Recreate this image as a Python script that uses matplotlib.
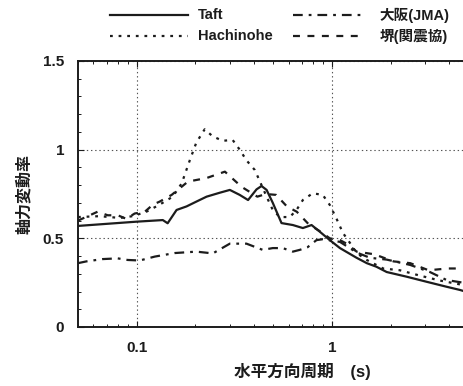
import matplotlib
matplotlib.use("Agg")
import matplotlib.pyplot as plt
from matplotlib.lines import Line2D
from matplotlib.ticker import FixedLocator, LogLocator, NullFormatter, MultipleLocator

plt.rcParams['font.family'] = ['Liberation Sans', 'Noto Sans CJK JP']
plt.rcParams['lines.scale_dashes'] = False

# Taft
taft_period = [0.05, 0.10, 0.136, 0.144, 0.160, 0.180, 0.202, 0.228, 0.266, 0.300,
               0.337, 0.372, 0.411, 0.436, 0.463, 0.498, 0.552, 0.631, 0.710, 0.787,
               0.868, 0.976, 1.10, 1.34, 1.51, 1.69, 1.91, 2.41, 3.06, 3.87, 4.53, 5.0]
taft_ratio = [0.57, 0.594, 0.603, 0.585, 0.66, 0.68, 0.707, 0.735, 0.757, 0.773,
              0.745, 0.716, 0.776, 0.795, 0.773, 0.70, 0.586, 0.575, 0.558, 0.575,
              0.537, 0.49, 0.445, 0.39, 0.36, 0.34, 0.31, 0.284, 0.255, 0.227, 0.209, 0.195]

# Hachinohe
hachi_period = [0.05, 0.0646, 0.0818, 0.0954, 0.112, 0.131, 0.153, 0.170, 0.187, 0.202,
                0.223, 0.245, 0.276, 0.310, 0.337, 0.365, 0.403, 0.428, 0.463, 0.498,
                0.541, 0.609, 0.659, 0.710, 0.798, 0.898, 0.976, 1.057, 1.14, 1.24,
                1.34, 1.51, 1.83, 2.23, 2.82, 3.58, 4.70, 5.0]
hachi_ratio = [0.62, 0.625, 0.615, 0.625, 0.65, 0.69, 0.735, 0.81, 0.94, 1.04,
               1.115, 1.075, 1.05, 1.055, 1.0, 0.94, 0.885, 0.82, 0.735, 0.66,
               0.62, 0.62, 0.66, 0.716, 0.754, 0.745, 0.688, 0.61, 0.53, 0.473,
               0.417, 0.378, 0.33, 0.32, 0.29, 0.262, 0.237, 0.23]

# 大阪(JMA)
osaka_period = [0.05, 0.0552, 0.0669, 0.0799, 0.0899, 0.1036, 0.1237, 0.1565, 0.202, 0.2455,
                0.300, 0.365, 0.442, 0.498, 0.560, 0.631, 0.685, 0.751, 0.834, 0.898,
                1.10, 1.34, 1.57, 1.91, 2.52, 3.18, 3.87, 4.70, 5.0]
osaka_ratio = [0.36, 0.37, 0.383, 0.387, 0.378, 0.375, 0.397, 0.417, 0.425, 0.415,
               0.47, 0.47, 0.435, 0.445, 0.445, 0.425, 0.435, 0.45, 0.49, 0.495,
               0.48, 0.42, 0.39, 0.38, 0.35, 0.31, 0.265, 0.25, 0.25]

# 堺(関震協)
sakai_period = [0.05, 0.063, 0.071, 0.0799, 0.0885, 0.0976, 0.110, 0.121, 0.131, 0.151,
                0.183, 0.228, 0.283, 0.345, 0.415, 0.459, 0.518, 0.588, 0.661, 0.760,
                0.868, 0.976, 1.10, 1.19, 1.34, 1.65, 2.07, 2.52, 3.13, 3.93, 4.75, 5.0]
sakai_ratio = [0.60, 0.65, 0.63, 0.63, 0.61, 0.64, 0.65, 0.69, 0.707, 0.745,
               0.82, 0.84, 0.876, 0.79, 0.735, 0.75, 0.745, 0.68, 0.65, 0.58,
               0.54, 0.50, 0.49, 0.47, 0.425, 0.41, 0.37, 0.36, 0.32, 0.33, 0.33, 0.33]

series_labels = ["Taft", "Hachinohe", "大阪(JMA)", "堺(関震協)"]
x_ticks = [0.1, 1]
x_tick_labels = ["0.1", "1"]
y_ticks = [0, 0.5, 1, 1.5]
y_tick_labels = ["0", "0.5", "1", "1.5"]

W, H = 464, 386
fig = plt.figure(figsize=(W / 100, H / 100), dpi=100)
ax = fig.add_axes([78 / W, 59 / H, 449 / W, 266 / H])

ink = "#1c1c1c"
styles = [
    dict(linestyle="-", lw=1.6),
    dict(linestyle=(0, (2.0, 4.2)), lw=1.6),
    dict(linestyle=(0, (7.0, 4.3, 2.0, 4.3)), lw=1.6),
    dict(linestyle=(0, (5.0, 5.4)), lw=1.6),
]
data = [(taft_period, taft_ratio), (hachi_period, hachi_ratio),
        (osaka_period, osaka_ratio), (sakai_period, sakai_ratio)]
for (p, r), st, lab in zip(data, styles, series_labels):
    ax.plot(p, r, color=ink, label=lab, **st)

ax.set_xscale("log")
ax.set_xlim(0.05, 10)
ax.set_ylim(0, 1.5)
ax.xaxis.set_major_locator(FixedLocator(x_ticks))
ax.set_xticks(x_ticks, x_tick_labels)
ax.xaxis.set_minor_locator(LogLocator(base=10, subs=range(2, 10)))
ax.xaxis.set_minor_formatter(NullFormatter())
ax.set_yticks(y_ticks, y_tick_labels)
ax.yaxis.set_minor_locator(MultipleLocator(0.1))

ax.tick_params(which="both", direction="in", top=True, right=False, colors=ink,
               labelsize=11, pad=10)
ax.tick_params(which="major", length=4, width=0.8)
ax.tick_params(which="minor", length=2.5, width=0.7)
for lbl in ax.get_xticklabels() + ax.get_yticklabels():
    lbl.set_fontweight("bold")
for s in ax.spines.values():
    s.set_linewidth(1.4)
    s.set_color(ink)

ax.grid(True, which="major", linestyle=(0, (1, 2)), color="#555555", lw=0.8)

ax.set_xlabel("水平方向周期\u3000(s)", fontsize=12, fontweight="bold", labelpad=6, color=ink)
ax.set_ylabel("軸力変動率", fontsize=11.5, fontweight="bold", color=ink)
ax.yaxis.set_label_coords(-46 / 449, 0.5)

# Legend in two columns above the plot, placed in pixel coordinates
legend_slots = [
    (110, 188, 198, 15),
    (110, 188, 198, 36),
    (293, 365, 380, 15),
    (293, 365, 380, 36),
]
for (x0, x1, tx, ty), st, lab in zip(legend_slots, styles, series_labels):
    y = 1 - ty / H
    fig.add_artist(Line2D([x0 / W, x1 / W], [y, y], transform=fig.transFigure,
                          color=ink, **st))
    fig.text(tx / W, y, lab, fontsize=10.5, fontweight="bold", va="center",
             ha="left", color=ink)

fig.savefig("out.png", dpi=100)
